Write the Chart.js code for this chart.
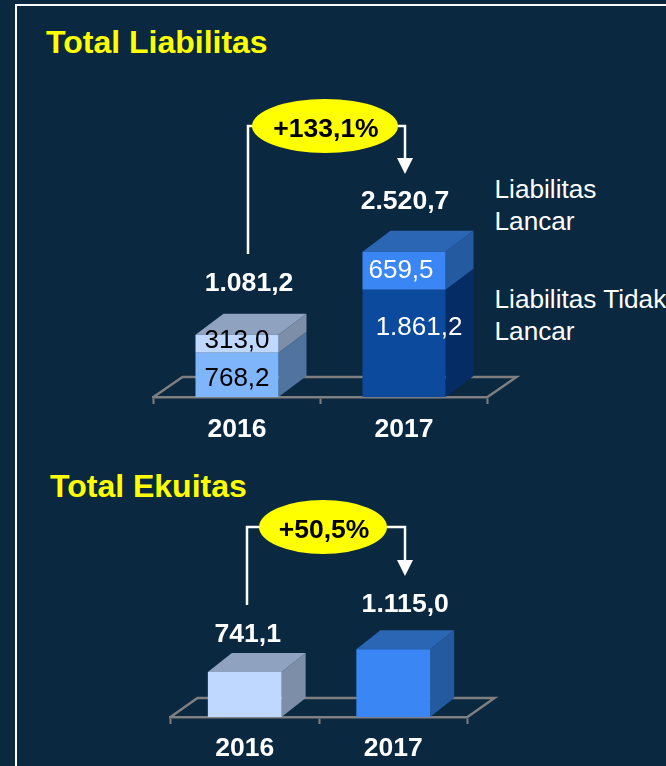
<!DOCTYPE html>
<html lang="id">
<head>
    <meta charset="UTF-8">
    <title>Total Liabilitas dan Ekuitas</title>
    <style>
        html, body { margin: 0; padding: 0; width: 666px; height: 766px; overflow: hidden; background: #0a2940; }
        canvas { position: absolute; left: 0; }
        #frame { position: absolute; left: 15px; top: 4px; width: 800px; height: 900px; border: 2px solid #ffffff; box-sizing: border-box; }
        .title { position: absolute; font: bold 32px "Liberation Sans", Arial, sans-serif; color: #ffff00; white-space: nowrap; line-height: 36px; }
        .note { position: absolute; left: 494.5px; font: 26.2px/32px "Liberation Sans", Arial, sans-serif; color: #ffffff; white-space: nowrap; }
    </style>
</head>
<body>
    <div id="frame"></div>
    <div class="title" style="left:46px; top:24px;">Total Liabilitas</div>
    <div class="title" style="left:50px; top:468px;">Total Ekuitas</div>
    <div class="note" style="top:173px;">Liabilitas<br>Lancar</div>
    <div class="note" style="top:283px;">Liabilitas Tidak<br>Lancar</div>

    <canvas id="chart-liabilitas" width="666" height="450" style="top:0"></canvas>
    <canvas id="chart-ekuitas" width="666" height="286" style="top:480px"></canvas>

    <script src="https://cdn.jsdelivr.net/npm/chart.js"></script>
    <script>
        const categories = ['2016', '2017'];
        const liabilitasTidakLancar = [768.2, 1861.2];
        const liabilitasLancar = [313.0, 659.5];
        const totalLiabilitas = [1081.2, 2520.7];
        const totalEkuitas = [741.1, 1115.0];
        const growthLiabilitas = '+133,1%';
        const growthEkuitas = '+50,5%';

        const FONT = '"Liberation Sans", Arial, sans-serif';

        // 1081.2 -> 1.081,2
        function fmt(v) {
            const parts = v.toFixed(1).split('.');
            return parts[0].replace(/\B(?=(\d{3})+$)/g, '.') + ',' + parts[1];
        }

        // fake 3D: floor, side and top faces, labels and the growth bracket
        const box3d = {
            id: 'box3d',
            beforeDatasetsDraw(chart, args, o) {
                const ctx = chart.ctx;
                const a = chart.chartArea;
                ctx.save();
                ctx.strokeStyle = '#7f7f7f';
                ctx.lineWidth = 2.5;
                ctx.beginPath();
                ctx.moveTo(a.left, a.bottom);
                ctx.lineTo(a.left + o.floorX, a.bottom - o.floorY);
                ctx.lineTo(a.right + o.floorX, a.bottom - o.floorY);
                ctx.lineTo(a.right, a.bottom);
                ctx.stroke();

                chart.data.datasets.forEach((ds, d) => {
                    chart.getDatasetMeta(d).data.forEach((bar, i) => {
                        const r = bar.x + bar.width / 2;
                        const l = bar.x - bar.width / 2;
                        ctx.fillStyle = o.sideColors[d][i];
                        ctx.beginPath();
                        ctx.moveTo(r, bar.y);
                        ctx.lineTo(r + o.depthX, bar.y - o.depthY);
                        ctx.lineTo(r + o.depthX, bar.base - o.depthY);
                        ctx.lineTo(r, bar.base);
                        ctx.closePath();
                        ctx.fill();
                        if (d === chart.data.datasets.length - 1) {
                            ctx.fillStyle = o.topColors[i];
                            ctx.beginPath();
                            ctx.moveTo(l, bar.y);
                            ctx.lineTo(l + o.depthX, bar.y - o.depthY);
                            ctx.lineTo(r + o.depthX, bar.y - o.depthY);
                            ctx.lineTo(r, bar.y);
                            ctx.closePath();
                            ctx.fill();
                        }
                    });
                });
                ctx.restore();
            },
            afterDatasetsDraw(chart, args, o) {
                const ctx = chart.ctx;
                const last = chart.data.datasets.length - 1;
                ctx.save();
                ctx.textAlign = 'center';
                ctx.textBaseline = 'middle';

                // values inside the segments
                (o.segLabels || []).forEach(s => {
                    const bar = chart.getDatasetMeta(s.dataset).data[s.index];
                    const val = chart.data.datasets[s.dataset].data[s.index];
                    ctx.font = '26px ' + FONT;
                    ctx.fillStyle = s.color;
                    ctx.fillText(fmt(val), bar.x + s.dx, (bar.y + bar.base) / 2 + s.dy);
                });

                // totals above the boxes
                o.totals.forEach((val, i) => {
                    const bar = chart.getDatasetMeta(last).data[i];
                    ctx.font = 'bold 26.6px ' + FONT;
                    ctx.fillStyle = '#ffffff';
                    ctx.fillText(fmt(val), bar.x + o.totalOffsets[i][0], bar.y + o.totalOffsets[i][1]);
                });

                // bracket with arrow
                const b = o.bracket;
                ctx.strokeStyle = '#ffffff';
                ctx.fillStyle = '#ffffff';
                ctx.lineWidth = 2.5;
                ctx.beginPath();
                ctx.moveTo(b.leftX, b.leftBottom);
                ctx.lineTo(b.leftX, b.y);
                ctx.lineTo(b.rightX, b.y);
                ctx.lineTo(b.rightX, b.arrowTop);
                ctx.stroke();
                ctx.beginPath();
                ctx.moveTo(b.rightX - 8, b.arrowTop);
                ctx.lineTo(b.rightX + 8, b.arrowTop);
                ctx.lineTo(b.rightX, b.arrowTop + 16);
                ctx.closePath();
                ctx.fill();

                ctx.fillStyle = '#ffff00';
                ctx.beginPath();
                ctx.ellipse(b.cx, b.y, b.rx, b.ry, 0, 0, Math.PI * 2);
                ctx.fill();
                ctx.fillStyle = '#000000';
                ctx.font = 'bold 26.5px ' + FONT;
                ctx.fillText(b.text, b.cx + 1, b.y + 4);
                ctx.restore();
            }
        };

        function xAxis(height, padding, fontSize) {
            return {
                offset: true,
                afterFit: s => { s.height = height; },
                border: { color: '#7f7f7f', width: 2.5 },
                grid: { offset: true, drawOnChartArea: false, drawTicks: true, tickLength: 7, tickWidth: 2, tickColor: '#7f7f7f', color: '#7f7f7f' },
                ticks: { color: '#ffffff', padding: padding, maxRotation: 0, autoSkip: false, font: { family: FONT, size: fontSize, weight: 'bold' } }
            };
        }

        new Chart(document.getElementById('chart-liabilitas'), {
            type: 'bar',
            plugins: [box3d],
            data: {
                labels: categories,
                datasets: [
                    { label: 'Liabilitas Tidak Lancar', data: liabilitasTidakLancar, backgroundColor: ['#7fb5fb', '#0c4a9e'], categoryPercentage: 1, barPercentage: 0.497 },
                    { label: 'Liabilitas Lancar', data: liabilitasLancar, backgroundColor: ['#bfd8ff', '#3a86f5'], categoryPercentage: 1, barPercentage: 0.497 }
                ]
            },
            options: {
                responsive: false,
                animation: false,
                layout: { padding: { left: 153.5, right: 178.5, top: 224, bottom: 0 } },
                scales: {
                    x: Object.assign(xAxis(53, 10, 26.5), { stacked: true }),
                    y: { stacked: true, display: false, min: 0, max: 3000 }
                },
                plugins: {
                    legend: { display: false },
                    tooltip: { enabled: false },
                    box3d: {
                        depthX: 28, depthY: 21, floorX: 29, floorY: 20,
                        sideColors: [['#50739f', '#062c66'], ['#7d8ea9', '#245aa0']],
                        topColors: ['#8fa3c0', '#2b66b5'],
                        segLabels: [
                            { dataset: 0, index: 0, dx: 0, dy: 4, color: '#000000' },
                            { dataset: 1, index: 0, dx: 0, dy: -3, color: '#000000' },
                            { dataset: 0, index: 1, dx: 15, dy: -16, color: '#ffffff' },
                            { dataset: 1, index: 1, dx: -3, dy: 0, color: '#ffffff' }
                        ],
                        totals: totalLiabilitas,
                        totalOffsets: [[12, -51], [1, -50]],
                        bracket: { text: growthLiabilitas, leftX: 248, leftBottom: 254, rightX: 405, y: 126, arrowTop: 158, cx: 325, rx: 73, ry: 27 }
                    }
                }
            }
        });

        new Chart(document.getElementById('chart-ekuitas'), {
            type: 'bar',
            plugins: [box3d],
            data: {
                labels: categories,
                datasets: [
                    { label: 'Total Ekuitas', data: totalEkuitas, backgroundColor: ['#bfd8ff', '#3a86f5'], categoryPercentage: 1, barPercentage: 0.497 }
                ]
            },
            options: {
                responsive: false,
                animation: false,
                layout: { padding: { left: 170.5, right: 198.5, top: 146, bottom: 0 } },
                scales: {
                    x: xAxis(49, 9, 26.5),
                    y: { display: false, min: 0, max: 1500 }
                },
                plugins: {
                    legend: { display: false },
                    tooltip: { enabled: false },
                    box3d: {
                        depthX: 24, depthY: 19, floorX: 27, floorY: 19,
                        sideColors: [['#7d8ea9', '#245aa0']],
                        topColors: ['#8fa3c0', '#2b66b5'],
                        totals: totalEkuitas,
                        totalOffsets: [[3, -37], [12, -45]],
                        bracket: { text: growthEkuitas, leftX: 247, leftBottom: 125, rightX: 405, y: 47, arrowTop: 80, cx: 323, rx: 64, ry: 27 }
                    }
                }
            }
        });
    </script>
</body>
</html>
